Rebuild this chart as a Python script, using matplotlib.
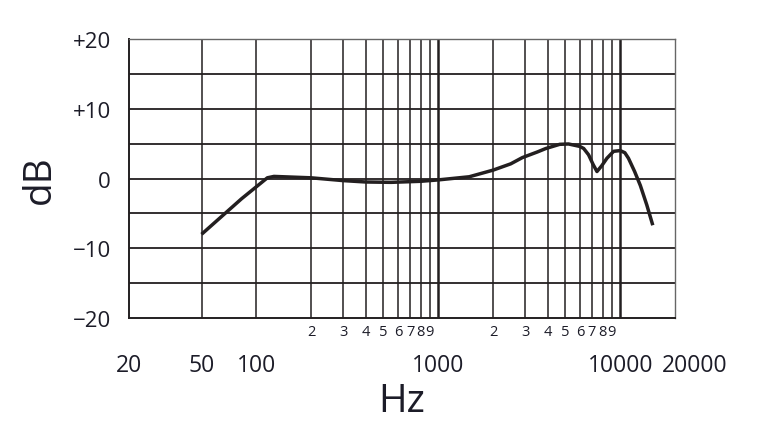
import matplotlib.pyplot as plt
from matplotlib.transforms import ScaledTranslation

plt.rcParams['font.family'] = ['Open Sans', 'DejaVu Sans']

# frequency response
freq = [50, 83, 115, 125, 200, 300, 400, 550, 800, 1000, 1480, 2000, 2500, 2900, 3500,
        3900, 4650, 5200, 6000, 6300, 6700, 7100, 7450, 7900, 8450, 9200, 10000, 10600,
        11100, 12000, 12900, 14000, 15100]
db = [-8.0, -2.9, 0.1, 0.3, 0.1, -0.3, -0.5, -0.55, -0.4, -0.2, 0.25, 1.2, 2.1, 3.0, 3.8,
      4.3, 4.9, 4.95, 4.6, 4.3, 3.4, 2.0, 1.0, 1.8, 2.9, 3.9, 4.0, 3.7,
      2.9, 1.0, -1.0, -3.8, -6.7]

major_ticks = [20, 50, 100, 1000, 10000, 20000]
major_labels = ['20', '50', '100', '1000', '10000', '20000']
minor_ticks = [200, 300, 400, 500, 600, 700, 800, 900,
               2000, 3000, 4000, 5000, 6000, 7000, 8000, 9000]
minor_labels = ['2', '3', '4', '5', '6', '7', '8', '9'] * 2
y_ticks = [-20, -10, 0, 10, 20]
y_labels = ['\u221220', '\u221210', '0', '+10', '+20']
y_grid = [-15, -10, -5, 0, 5, 10, 15]
heavy_lines = [1000, 10000]

ink = '#231f20'
txt = '#1c1c28'
fig = plt.figure(figsize=(7.64, 4.39), dpi=100)
ax = fig.add_axes([0.169, 0.2733, 0.7145, 0.6356])

ax.set_xscale('log')
ax.set_xlim(20, 20000)
ax.set_ylim(-20, 20)

for f in [50, 100] + minor_ticks:
    ax.axvline(f, color=ink, lw=1.1, zorder=1)
for f in heavy_lines:
    ax.axvline(f, color=ink, lw=1.8, zorder=1)
for v in y_grid:
    ax.axhline(v, color=ink, lw=1.3, zorder=1)

ax.plot(freq, db, color=ink, lw=2.5, solid_joinstyle='round', solid_capstyle='butt', zorder=3)

ax.set_xticks(major_ticks)
ax.set_xticklabels(major_labels, fontsize=16.5, color=txt)
ax.set_xticks(minor_ticks, minor=True)
ax.set_xticklabels(minor_labels, minor=True, fontsize=10.5, color=txt)
ax.tick_params(axis='x', which='major', length=0, pad=25)
ax.tick_params(axis='x', which='minor', length=0, pad=4)
# last label is nudged right in the original
last = ax.get_xticklabels()[-1]
last.set_transform(last.get_transform() + ScaledTranslation(0.2, 0, fig.dpi_scale_trans))

ax.set_yticks(y_ticks)
ax.set_yticklabels(y_labels, fontsize=16, color=txt)
ax.tick_params(axis='y', length=0, pad=13)

ax.set_xlabel('Hz', fontsize=28, color=txt, labelpad=4)
ax.set_ylabel('dB', fontsize=28, color=txt, labelpad=10)

for side in ['left', 'bottom']:
    ax.spines[side].set_color(ink)
    ax.spines[side].set_linewidth(1.4)
for side in ['top', 'right']:
    ax.spines[side].set_color('#666666')
    ax.spines[side].set_linewidth(1.0)

fig.savefig('out.png', dpi=100)
